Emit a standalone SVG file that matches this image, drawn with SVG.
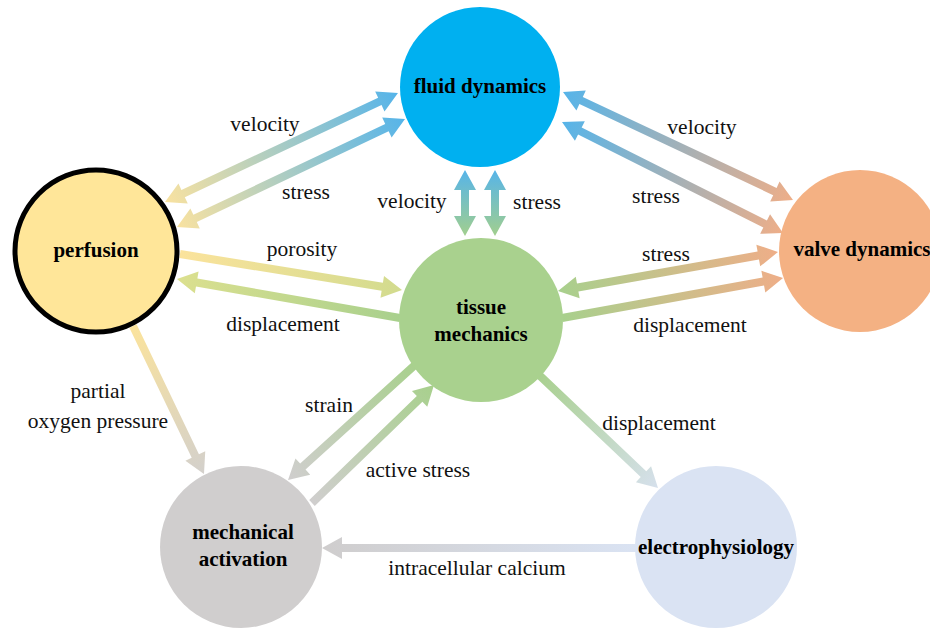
<svg xmlns="http://www.w3.org/2000/svg" width="930" height="630" viewBox="0 0 930 630">
<style>
text{font-family:"Liberation Serif",Tinos,"Noto Serif","DejaVu Serif",FreeSerif,Times,serif}
.lbl{font-size:21.5px;fill:#111;text-anchor:middle}
.nl{font-size:21px;font-weight:bold;fill:#000;text-anchor:middle}
</style>
<defs>
<linearGradient id="gYB"><stop offset="0" stop-color="#F9E2A0"/><stop offset="1" stop-color="#56B4E9"/></linearGradient>
<linearGradient id="gBO"><stop offset="0" stop-color="#56B4E9"/><stop offset="1" stop-color="#EEAE88"/></linearGradient>
<linearGradient id="gBG"><stop offset="0" stop-color="#56B4E9"/><stop offset="1" stop-color="#A2CF8E"/></linearGradient>
<linearGradient id="gYG"><stop offset="0" stop-color="#FBE39C"/><stop offset="1" stop-color="#D2DB8E"/></linearGradient>
<linearGradient id="gGY"><stop offset="0" stop-color="#A8D08D"/><stop offset="1" stop-color="#DCE08F"/></linearGradient>
<linearGradient id="gGO"><stop offset="0" stop-color="#A8D08D"/><stop offset="1" stop-color="#EEAE88"/></linearGradient>
<linearGradient id="gYGr"><stop offset="0" stop-color="#FBE39C"/><stop offset="1" stop-color="#D3D0CC"/></linearGradient>
<linearGradient id="gGGr"><stop offset="0" stop-color="#A8D08D"/><stop offset="1" stop-color="#D0CECE"/></linearGradient>
<linearGradient id="gGrG"><stop offset="0" stop-color="#D0CECE"/><stop offset="1" stop-color="#A8D08D"/></linearGradient>
<linearGradient id="gGL"><stop offset="0" stop-color="#A8D08D"/><stop offset="1" stop-color="#D6E0EC"/></linearGradient>
<linearGradient id="gLGr"><stop offset="0" stop-color="#DAE3F3"/><stop offset="1" stop-color="#CFCDCD"/></linearGradient>
</defs>
<rect width="930" height="630" fill="#fff"/>
<g id="connectors">
<g transform="translate(165,202) rotate(-25.07)"><polygon fill="url(#gYB)" points="0,0 20,-11 20,-4 237.2,-4 237.2,-11 257.2,0 237.2,11 237.2,4 20,4 20,11"/></g>
<g transform="translate(177,227) rotate(-25.35)"><polygon fill="url(#gYB)" points="0,0 20,-11 20,-4 232.3,-4 232.3,-11 252.3,0 232.3,11 232.3,4 20,4 20,11"/></g>
<g transform="translate(563,92) rotate(25.16)"><polygon fill="url(#gBO)" points="0,0 20,-11 20,-4 234.1,-4 234.1,-11 254.1,0 234.1,11 234.1,4 20,4 20,11"/></g>
<g transform="translate(562,122) rotate(26.67)"><polygon fill="url(#gBO)" points="0,0 20,-11 20,-4 227.3,-4 227.3,-11 247.3,0 227.3,11 227.3,4 20,4 20,11"/></g>
<g transform="translate(465,170) rotate(90)"><polygon fill="url(#gBG)" points="0,0 20,-11 20,-4 46,-4 46,-11 66,0 46,11 46,4 20,4 20,11"/></g>
<g transform="translate(495,170) rotate(90)"><polygon fill="url(#gBG)" points="0,0 20,-11 20,-4 46,-4 46,-11 66,0 46,11 46,4 20,4 20,11"/></g>
<g transform="translate(180,254) rotate(9.21)"><polygon fill="url(#gYG)" points="0,-4 204.9,-4 204.9,-11 224.9,0 204.9,11 204.9,4 0,4"/></g>
<g transform="translate(400,318) rotate(189.92)"><polygon fill="url(#gGY)" points="0,-4 206.4,-4 206.4,-11 226.4,0 206.4,11 206.4,4 0,4"/></g>
<g transform="translate(558,291) rotate(-10.05)"><polygon fill="url(#gGO)" points="0,0 20,-11 20,-4 203.4,-4 203.4,-11 223.4,0 203.4,11 203.4,4 20,4 20,11"/></g>
<g transform="translate(562,318) rotate(-10.26)"><polygon fill="url(#gGO)" points="0,-4 204.6,-4 204.6,-11 224.6,0 204.6,11 204.6,4 0,4"/></g>
<g transform="translate(133,326) rotate(64.37)"><polygon fill="url(#gYGr)" points="0,-4 144.1,-4 144.1,-11 164.1,0 144.1,11 144.1,4 0,4"/></g>
<g transform="translate(416,364) rotate(137.82)"><polygon fill="url(#gGGr)" points="0,-4 152.7,-4 152.7,-11 172.7,0 152.7,11 152.7,4 0,4"/></g>
<g transform="translate(312,503) rotate(-44.04)"><polygon fill="url(#gGrG)" points="0,-4 149.7,-4 149.7,-11 169.7,0 149.7,11 149.7,4 0,4"/></g>
<g transform="translate(537,373) rotate(43.54)"><polygon fill="url(#gGL)" points="0,-4 146.9,-4 146.9,-11 166.9,0 146.9,11 146.9,4 0,4"/></g>
<g transform="translate(637,548) rotate(180)"><polygon fill="url(#gLGr)" points="0,-4 295,-4 295,-11 315,0 295,11 295,4 0,4"/></g>
</g>
<g id="edge-labels">
<text class="lbl" x="265" y="131">velocity</text>
<text class="lbl" x="306" y="199">stress</text>
<text class="lbl" x="702" y="134">velocity</text>
<text class="lbl" x="656" y="203">stress</text>
<text class="lbl" x="412" y="208">velocity</text>
<text class="lbl" x="537" y="209">stress</text>
<text class="lbl" x="302" y="256">porosity</text>
<text class="lbl" x="283" y="331">displacement</text>
<text class="lbl" x="666" y="261">stress</text>
<text class="lbl" x="690" y="332">displacement</text>
<text class="lbl" x="98" y="398">partial</text>
<text class="lbl" x="98" y="428">oxygen pressure</text>
<text class="lbl" x="329" y="412">strain</text>
<text class="lbl" x="418" y="477">active stress</text>
<text class="lbl" x="659" y="430">displacement</text>
<text class="lbl" x="477" y="575">intracellular calcium</text>
</g>
<g id="node-fluid"><circle cx="480" cy="87" r="80" fill="#00B0F0"/><text class="nl" x="480" y="93">fluid dynamics</text></g>
<g id="node-perfusion"><circle cx="96" cy="251" r="81" fill="#FFE699" stroke="#000" stroke-width="5"/><text class="nl" x="96" y="257">perfusion</text></g>
<g id="node-tissue"><circle cx="481" cy="320" r="82" fill="#A9D18E"/><text class="nl" x="481" y="314">tissue</text><text class="nl" x="481" y="341">mechanics</text></g>
<g id="node-valve"><circle cx="860" cy="251" r="81" fill="#F4B183"/><text class="nl" x="862" y="256">valve dynamics</text></g>
<g id="node-mech"><circle cx="241" cy="547" r="81" fill="#D0CECE"/><text class="nl" x="243" y="539">mechanical</text><text class="nl" x="243" y="566">activation</text></g>
<g id="node-electro"><circle cx="716" cy="547" r="81" fill="#DAE3F3"/><text class="nl" x="716" y="554">electrophysiology</text></g>
</svg>
